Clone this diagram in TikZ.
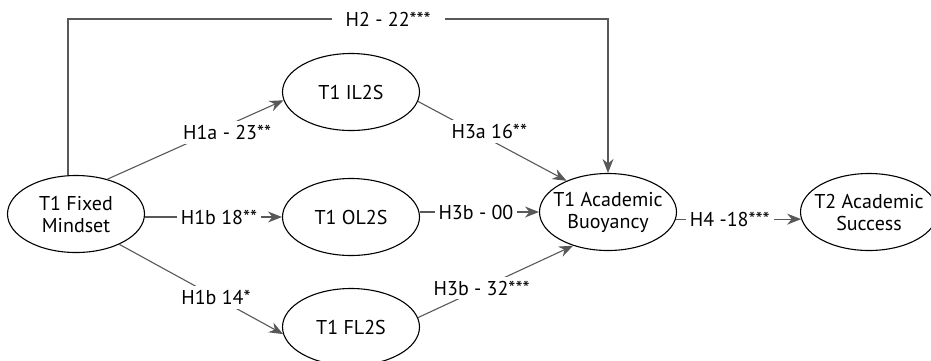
\documentclass[tikz,border=0pt]{standalone}
\usepackage{fontspec}
\setmainfont{PT Sans}
\usetikzlibrary{shapes.geometric,arrows.meta}
\definecolor{linegray}{RGB}{88,88,88}
\begin{document}
\begin{tikzpicture}[x=0.5pt,y=-0.5pt,
		var/.style={ellipse,draw,line width=0.55pt,minimum width=68.5pt,minimum height=38.5pt,inner xsep=-12pt,inner ysep=-6pt,align=center,font=\fontsize{10}{11}\selectfont},
		link/.style={draw=linegray,line width=0.55pt,-{Stealth[length=7pt,width=5.5pt]}},
		lab/.style={fill=white,inner sep=2pt,text=black,font=\fontsize{10}{11}\selectfont}]
			\useasboundingbox (0,0) rectangle (931,360); \clip (0,0) rectangle (931,360);
			\node[var] (FM) at (76,214) {T1 Fixed\\Mindset};
			\node[var] (IL) at (351,92) {T1 IL2S};
			\node[var] (OL) at (351,217) {T1 OL2S};
			\node[var] (FL) at (351,327) {T1 FL2S};
			\node[var] (AB) at (608,212) {T1 Academic\\Buoyancy};
			\node[var] (AS) at (869,212) {T2 Academic\\Success};
			\coordinate (T) at (68,19);
			\draw[link] (FM.north -| T) -- (T) -- node[lab,pos=0.593,inner xsep=7pt] {H2 - 22***} (T -| AB) -- (AB.north);
			\draw[link] (FM.48) -- node[lab,pos=0.68,yshift=-3.5pt] {H1a - 23**} (IL.187);
			\draw[link] (FM.east |- OL.west) -- node[lab,pos=0.54] {H1b 18**} (OL.west);
			\draw[link] (FM.-35) -- node[lab,pos=0.59] {H1b 14*} (FL.186);
			\draw[link] (IL.-8) -- node[lab,pos=0.48,yshift=4pt] {H3a 16**} (AB.143);
			\draw[link] (OL.east |- AB.west) -- node[lab,pos=0.47] {H3b - 00} (AB.west);
			\draw[link] (FL.8) -- node[lab,pos=0.41] {H3b - 32***} (AB.224);
			\draw[link] (AB.-6) -- node[lab,pos=0.43] {H4 -18***} (AS.186);
		\end{tikzpicture}
\end{document}
